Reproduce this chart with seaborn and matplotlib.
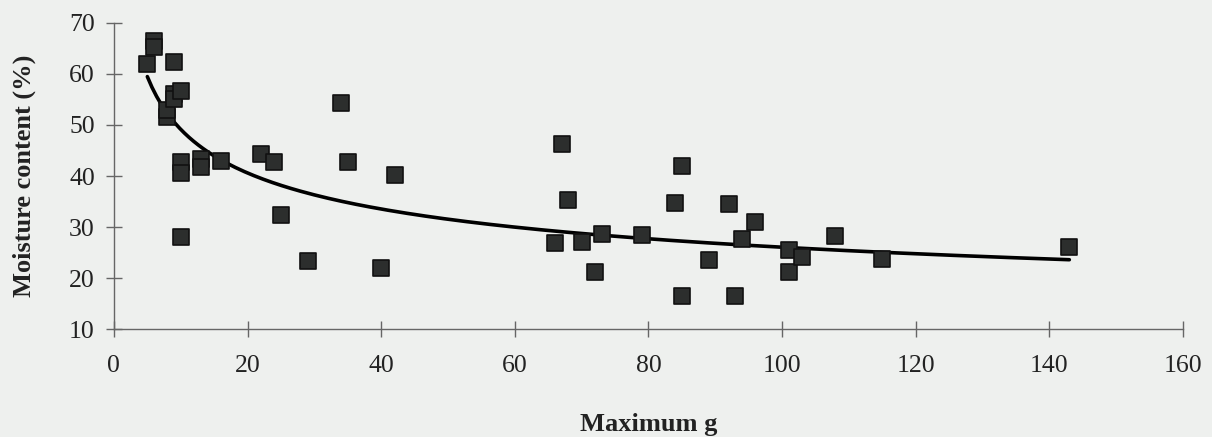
import numpy as np
import pandas as pd
import matplotlib
matplotlib.use("Agg")
import matplotlib.pyplot as plt
import seaborn as sns

# values
max_g = [5, 6, 6, 8, 8, 9, 9, 9, 10, 10, 10, 10, 13, 13, 16, 22, 24, 25, 29,
         34, 35, 40, 42, 66, 67, 68, 70, 72, 73, 79, 84, 85, 85, 89, 92, 93,
         94, 96, 101, 101, 103, 108, 115, 143]
moisture = [62.0, 66.5, 65.2, 51.5, 53.0, 62.3, 56.0, 55.0, 56.6, 42.8, 40.5, 28.0,
            43.3, 41.8, 43.0, 44.4, 42.8, 32.4, 23.3,
            54.2, 42.8, 21.9, 40.2, 26.8, 46.2, 35.4, 27.0, 21.3, 28.6, 28.4,
            34.8, 42.0, 16.6, 23.6, 34.5, 16.6,
            27.7, 31.0, 25.5, 21.2, 24.1, 28.2, 23.7, 26.2]

df = pd.DataFrame({"max_g": max_g, "moisture": moisture})

# power trendline y = a * x^b fitted on the data
b, ln_a = np.polyfit(np.log(df["max_g"]), np.log(df["moisture"]), 1)
xs = np.linspace(df["max_g"].min(), df["max_g"].max(), 200)
trend = pd.DataFrame({"x": xs, "y": np.exp(ln_a) * xs ** b})

sns.set_style("white")
plt.rcParams["font.family"] = ["Liberation Serif", "DejaVu Serif"]

bg = "#eef0ee"
fig = plt.figure(figsize=(12.12, 4.37), dpi=100, facecolor=bg)
ax = fig.add_axes([0.094, 0.2465, 0.882, 0.7015], facecolor=bg)

sns.lineplot(data=trend, x="x", y="y", color="black", linewidth=2.6, ax=ax,
             zorder=2)
sns.scatterplot(data=df, x="max_g", y="moisture", marker="s", s=140,
                color="#2c2e2d", edgecolor="#111111", linewidth=1.2, ax=ax,
                zorder=3, clip_on=False)

ax.set_xlim(0, 160)
ax.set_ylim(10, 70)
ax.set_xticks(range(0, 161, 20))
ax.set_yticks(range(10, 71, 10))

for side in ["top", "right"]:
    ax.spines[side].set_visible(False)
for side in ["left", "bottom"]:
    ax.spines[side].set_color("#666666")
    ax.spines[side].set_linewidth(1.0)

ax.tick_params(axis="both", direction="inout", length=11.5, width=1.0,
               color="#666666", labelsize=18.5, labelcolor="#222222",
               bottom=True, left=True)
ax.tick_params(axis="y", pad=8)
ax.tick_params(axis="x", pad=13)

ax.set_xlabel("Maximum g", fontsize=19, fontweight="bold", labelpad=26,
              color="#222222")
ax.set_ylabel("Moisture content (%)", fontsize=19, fontweight="bold",
              labelpad=24, color="#222222")

fig.savefig("out.png", dpi=100, facecolor=bg)
